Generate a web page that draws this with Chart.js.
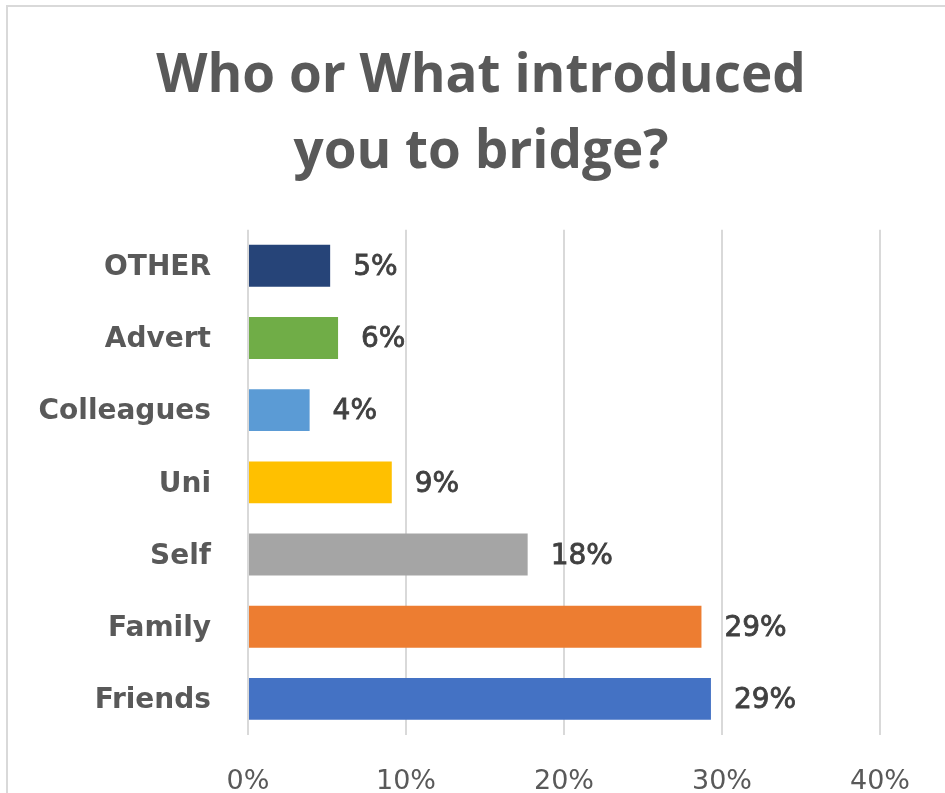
<!DOCTYPE html>
<html>
<head>
<meta charset="utf-8">
<script src="https://cdn.jsdelivr.net/npm/chart.js@4.4.0/dist/chart.umd.min.js"></script>
<style>
  html, body { margin: 0; padding: 0; background: #fff; overflow: hidden; }
  #frame { position: absolute; left: 6px; top: 5px; width: 960px; height: 820px; border: 2px solid #d9d9d9; }
  #wrap { position: absolute; left: 0; top: 0; width: 945px; height: 793px; }
</style>
</head>
<body>
<div id="frame"></div>
<div id="wrap"><canvas id="chart" width="945" height="793"></canvas></div>
<script>
// Who or What introduced you to bridge?
const categories = ["OTHER", "Advert", "Colleagues", "Uni", "Self", "Family", "Friends"];
const shares = [5.2, 5.7, 3.9, 9.1, 17.7, 28.7, 29.3];
const barColors = ["#264478", "#70ad47", "#5b9bd5", "#ffc000", "#a5a5a5", "#ed7d31", "#4472c4"];
const tickValues = [0, 10, 20, 30, 40];

const grey = "#595959";

// value labels at the end of each bar
const barLabels = {
  id: "barLabels",
  afterLayout(chart) {
    // let the long category names use the padding on the left (labels are clipped to the axis box)
    chart.scales.y.left = 0;
  },
  afterDatasetsDraw(chart) {
    const ctx = chart.ctx;
    const meta = chart.getDatasetMeta(0);
    ctx.save();
    ctx.font = "28px 'DejaVu Sans'";
    ctx.fillStyle = "#404040";
    ctx.strokeStyle = "#404040";
    ctx.lineWidth = 0.8;
    ctx.textAlign = "left";
    ctx.textBaseline = "middle";
    meta.data.forEach((bar, i) => {
      const txt = Math.round(shares[i]) + "%";
      ctx.fillText(txt, bar.x + 23, bar.y + 2);
      ctx.strokeText(txt, bar.x + 23, bar.y + 2);
    });
    ctx.restore();
  }
};

new Chart(document.getElementById("chart"), {
  type: "bar",
  data: {
    labels: categories,
    datasets: [{
      data: shares,
      backgroundColor: barColors,
      barPercentage: 0.58,
      categoryPercentage: 1
    }]
  },
  options: {
    indexAxis: "y",
    responsive: false,
    animation: false,
    // left - right = 17 keeps the title centred near x=481
    layout: { padding: { left: 82, right: 65, top: 0, bottom: 0 } },
    plugins: {
      legend: { display: false },
      tooltip: { enabled: false },
      title: {
        display: true,
        text: ["Who or What introduced", "you to bridge?"],
        color: grey,
        font: { family: "Open Sans", size: 53, weight: "bold", lineHeight: 1.45 },
        padding: { top: 38, bottom: 38 }
      }
    },
    scales: {
      x: {
        min: 0,
        max: 40,
        afterBuildTicks(scale) {
          scale.ticks = tickValues.map(v => ({ value: v }));
        },
        afterFit(scale) { scale.height = 58; },
        border: { display: false },
        grid: { color: "#d9d9d9", lineWidth: 2, drawTicks: false },
        ticks: {
          color: grey,
          padding: 31,
          font: { family: "DejaVu Sans", size: 27 },
          callback: v => v + "%"
        }
      },
      y: {
        afterFit(scale) { scale.width = 166; },
        border: { display: false },
        grid: { display: false, drawTicks: false },
        ticks: {
          color: grey,
          padding: 37,
          labelOffset: 2,
          font: { family: "DejaVu Sans", size: 28, weight: "bold" }
        }
      }
    }
  },
  plugins: [barLabels]
});
</script>
</body>
</html>
